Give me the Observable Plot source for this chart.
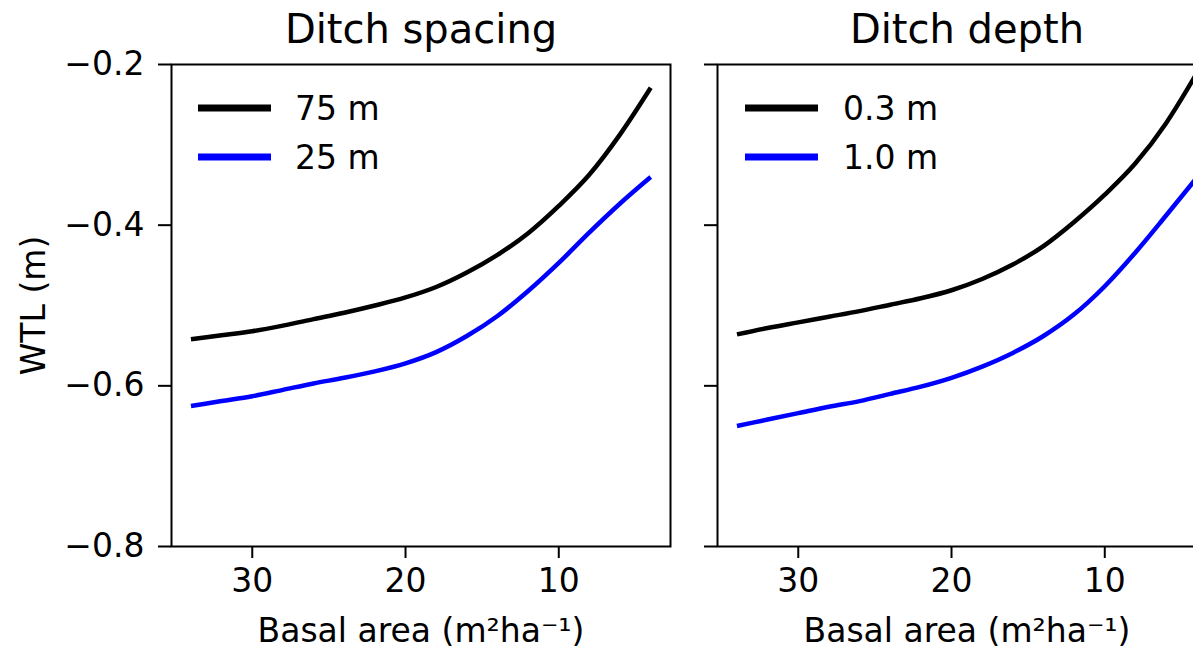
<!DOCTYPE html>
<html><head><meta charset="utf-8">
<script src="https://cdn.jsdelivr.net/npm/d3@7"></script>
<script src="https://cdn.jsdelivr.net/npm/@observablehq/plot@0.6"></script>
<style>
html,body{margin:0;padding:0;background:#fff;overflow:hidden;width:1193px;height:649px;}
#wrap{position:relative;width:1193px;height:649px;overflow:hidden;background:#fff;}
#p1{position:absolute;left:0;top:0;width:693px;}
#p2{position:absolute;left:693px;top:0;width:543px;}
#wrap svg{max-width:none !important;}
</style></head><body><div id="wrap"><div id="p1"></div><div id="p2"></div></div>
<script>
// Basal area (m2/ha), x axis is reversed
const basalArea = [34, 32, 30, 28, 26, 24, 22, 20, 18, 16, 14, 12, 10, 8, 6, 4];
// Ditch spacing panel
const spacing75 = [-0.542, -0.537, -0.532, -0.525, -0.517, -0.509, -0.500, -0.490, -0.477, -0.459, -0.437, -0.410, -0.376, -0.337, -0.287, -0.229];
const spacing25 = [-0.625, -0.619, -0.613, -0.605, -0.597, -0.590, -0.582, -0.572, -0.558, -0.538, -0.513, -0.482, -0.447, -0.409, -0.373, -0.340];
// Ditch depth panel
const depth03 = [-0.536, -0.528, -0.521, -0.514, -0.507, -0.499, -0.491, -0.481, -0.467, -0.449, -0.426, -0.396, -0.362, -0.323, -0.273, -0.211];
const depth10 = [-0.650, -0.642, -0.634, -0.626, -0.619, -0.610, -0.601, -0.590, -0.576, -0.559, -0.538, -0.511, -0.476, -0.434, -0.388, -0.341];

const panelTitles = ["Ditch spacing", "Ditch depth"];
const spacingLabels = ["75 m", "25 m"];
const depthLabels = ["0.3 m", "1.0 m"];
const seriesColors = ["#000000", "#0000ff"];
const xTicks = [30, 20, 10];
const yTicks = [-0.8, -0.6, -0.4, -0.2];
const xLabel = "Basal area (m²ha⁻¹)";
const yLabel = "WTL (m)";

function panel({title, labels, series, showYLabels, width, marginLeft, marginRight, legendDx, legendTextDx}) {
  const data = series.flatMap((vals, si) => vals.map((v, i) => ({x: basalArea[i], y: v, s: labels[si]})));
  const legend = (index, scales, values, dims) => {
    const g = d3.create("svg:g");
    labels.forEach((lab, i) => {
      const y = dims.marginTop + 44 + i * 49;
      const x0 = dims.marginLeft + legendDx;
      g.append("line").attr("x1", x0).attr("x2", x0 + 73).attr("y1", y).attr("y2", y)
        .attr("stroke", scales.color(lab)).attr("stroke-width", 7);
      g.append("text").attr("x", x0 + legendTextDx).attr("y", y).attr("dy", "0.35em")
        .attr("text-anchor", "start").attr("fill", "#000").text(lab);
    });
    return g.node();
  };
  const marks = [
    Plot.line(data, {x: "x", y: "y", z: "s", stroke: "s", strokeWidth: 4.5, curve: "monotone-x", strokeLinecap: "butt"}),
    Plot.frame({stroke: "#000", strokeWidth: 2}),
    Plot.axisX({ticks: xTicks, tickSize: 12, tickPadding: 10, strokeWidth: 2, label: null, tickFormat: d3.format("d")}),
    Plot.axisY({ticks: yTicks, tickSize: 13, tickPadding: 14, strokeWidth: 2, label: null,
      tickFormat: showYLabels ? d3.format(".1f") : () => ""}),
    Plot.text([title], {text: d => d, frameAnchor: "top", dy: -22, lineAnchor: "bottom", fontSize: 40, fill: "#000"}),
    Plot.text([xLabel], {text: d => d, frameAnchor: "bottom", dy: 95, lineAnchor: "bottom", fill: "#000"}),
    legend
  ];
  if (showYLabels) {
    marks.push(Plot.text([yLabel], {text: d => d, frameAnchor: "left", dx: 33.5 - marginLeft, rotate: -90,
      lineAnchor: "middle", textAnchor: "middle", fill: "#000"}));
  }
  return Plot.plot({
    width, height: 649, marginTop: 64, marginBottom: 103, marginLeft, marginRight,
    style: {fontFamily: "'DejaVu Sans', sans-serif", fontSize: "33px", background: "#fff", color: "#000", overflow: "visible", maxWidth: "none"},
    x: {domain: [35.27, 2.71], axis: null},
    y: {domain: [-0.8, -0.2], axis: null},
    color: {domain: labels, range: seriesColors},
    marks
  });
}

document.getElementById("p1").append(panel({
  title: panelTitles[0], labels: spacingLabels, series: [spacing75, spacing25], showYLabels: true,
  width: 693, marginLeft: 171, marginRight: 23, legendDx: 27, legendTextDx: 97
}));
document.getElementById("p2").append(panel({
  title: panelTitles[1], labels: depthLabels, series: [depth03, depth10], showYLabels: false,
  width: 543, marginLeft: 24, marginRight: 20, legendDx: 28, legendTextDx: 98
}));
</script></body></html>
